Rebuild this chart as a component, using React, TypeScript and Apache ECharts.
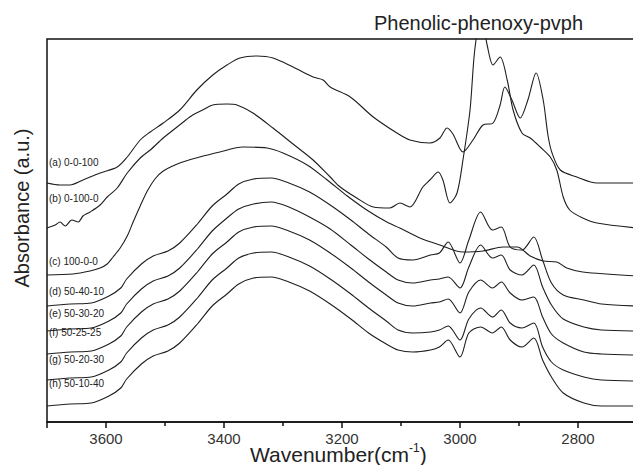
import React, { useEffect, useRef } from "react";
import * as echarts from "echarts";

// Wavenumber / absorbance readings (arbitrary absorbance units, curves offset as in the figure)
const wnA = [3700,3678,3661,3639,3610,3581,3564,3542,3525,3503,3475,3446,3419,3395,3373,3344,3317,3283,3249,3232,3220,3186,3147,3107,3085,3051,3034,3022,3012,2995,2978,2961,2944,2932,2924,2912,2898,2885,2871,2859,2851,2844,2830,2802,2768,2700];
const absA = [2.39,2.37,2.37,2.42,2.49,2.55,2.65,2.82,2.90,2.99,3.12,3.32,3.47,3.57,3.64,3.66,3.64,3.55,3.45,3.42,3.35,3.25,3.05,2.89,2.82,2.79,2.84,2.94,2.88,2.70,2.82,2.97,2.99,3.17,3.35,3.22,3.04,3.22,3.49,3.22,2.87,2.69,2.52,2.45,2.39,2.39];

const wnB = [3700,3686,3678,3669,3658,3647,3639,3627,3610,3598,3581,3564,3542,3525,3503,3486,3469,3453,3436,3419,3395,3378,3351,3317,3283,3249,3220,3203,3175,3147,3119,3102,3085,3063,3051,3037,3029,3017,3005,2995,2983,2975,2964,2954,2944,2932,2920,2910,2895,2881,2864,2847,2836,2825,2814,2792,2768,2700];
const absB = [1.94,1.97,2.00,1.96,2.02,2.00,2.06,2.10,2.17,2.25,2.34,2.49,2.64,2.72,2.84,2.92,3.00,3.07,3.12,3.17,3.18,3.17,3.09,2.94,2.78,2.62,2.45,2.35,2.24,2.15,2.14,2.19,2.15,2.35,2.42,2.50,2.42,2.19,2.29,2.62,3.12,3.72,4.07,3.77,3.57,3.65,3.42,3.12,2.89,2.84,2.75,2.65,2.52,2.25,2.12,2.04,1.99,1.94];

const wnC = [3700,3656,3627,3610,3598,3588,3576,3564,3554,3542,3530,3517,3503,3475,3441,3407,3368,3327,3300,3259,3225,3191,3158,3124,3102,3068,3034,2995,2961,2927,2903,2881,2859,2836,2819,2792,2700];
const absC = [1.47,1.48,1.51,1.54,1.58,1.65,1.74,1.86,2.00,2.16,2.31,2.43,2.51,2.59,2.65,2.70,2.75,2.74,2.69,2.57,2.42,2.26,2.12,2.00,1.94,1.84,1.77,1.70,1.71,1.75,1.75,1.66,1.61,1.60,1.54,1.50,1.46];

const wnBlend = [3700,3660,3625,3595,3575,3565,3540,3520,3495,3475,3445,3420,3395,3375,3350,3320,3290,3255,3220,3185,3155,3125,3105,3080,3050,3035,3020,3000,2985,2965,2945,2930,2915,2895,2875,2860,2845,2825,2790,2760,2700];
const absD = [1.16,1.18,1.19,1.26,1.34,1.43,1.58,1.66,1.71,1.79,1.98,2.16,2.28,2.38,2.43,2.44,2.39,2.30,2.17,2.02,1.88,1.75,1.64,1.62,1.67,1.69,1.80,1.59,1.82,2.10,1.92,1.95,1.75,1.72,1.85,1.62,1.39,1.27,1.22,1.18,1.16];
const absE = [0.91,0.93,0.94,1.01,1.09,1.18,1.33,1.41,1.46,1.54,1.73,1.91,2.04,2.13,2.18,2.20,2.15,2.05,1.93,1.77,1.63,1.50,1.42,1.39,1.42,1.43,1.45,1.34,1.55,1.77,1.64,1.67,1.52,1.47,1.57,1.35,1.17,1.03,0.95,0.92,0.91];
const absF = [0.68,0.70,0.71,0.78,0.86,0.95,1.10,1.18,1.23,1.31,1.50,1.68,1.80,1.90,1.95,1.96,1.91,1.82,1.69,1.54,1.40,1.27,1.19,1.16,1.19,1.20,1.23,1.09,1.30,1.42,1.34,1.40,1.29,1.22,1.25,1.05,0.88,0.79,0.70,0.68,0.67];
const absG = [0.42,0.44,0.45,0.52,0.60,0.69,0.84,0.92,0.97,1.05,1.24,1.42,1.54,1.64,1.69,1.70,1.65,1.56,1.43,1.28,1.14,1.01,0.92,0.89,0.90,0.92,0.96,0.82,1.03,1.14,1.05,1.12,0.99,0.94,0.99,0.75,0.60,0.52,0.45,0.42,0.41];
const absH = [0.16,0.18,0.19,0.26,0.34,0.43,0.58,0.66,0.71,0.79,0.98,1.16,1.28,1.38,1.44,1.45,1.40,1.31,1.18,1.03,0.89,0.78,0.72,0.70,0.72,0.75,0.82,0.65,0.89,0.95,0.89,0.95,0.82,0.75,0.84,0.62,0.45,0.29,0.19,0.16,0.16];

const sampleLabels = ["(a) 0-0-100","(b) 0-100-0","(c) 100-0-0","(d) 50-40-10","(e) 50-30-20","(f) 50-25-25","(g) 50-20-30","(h) 50-10-40"];
const labelTops = [163,199,262,292,314,333,360,384];

const FONT = "'Liberation Sans', Arial, sans-serif";

function pairs(xs: number[], ys: number[]) {
  return xs.map((x, i) => [x, ys[i]]);
}

export default function App() {
  const ref = useRef<HTMLDivElement>(null);
  useEffect(() => {
    document.body.style.margin = "0";
    if (!ref.current) return;
    const chart = echarts.init(ref.current, undefined, { renderer: "svg" });
    const curves = [
      pairs(wnA, absA), pairs(wnB, absB), pairs(wnC, absC),
      pairs(wnBlend, absD), pairs(wnBlend, absE), pairs(wnBlend, absF),
      pairs(wnBlend, absG), pairs(wnBlend, absH),
    ];
    const option: any = {
      animation: false,
      backgroundColor: "#ffffff",
      title: {
        text: "Phenolic-phenoxy-pvph",
        left: 369,
        top: 8,
        textStyle: { fontSize: 20, fontWeight: "normal", color: "#222", fontFamily: FONT },
      },
      grid: {
        left: 47, top: 39, height: 383, width: 649,
        containLabel: false,
        outerBoundsMode: "none",
        show: true, borderColor: "#111", borderWidth: 1.5, backgroundColor: "transparent",
      },
      xAxis: {
        type: "value",
        inverse: true,
        min: 2600,
        max: 3700,
        interval: 200,
        axisLine: { show: true, lineStyle: { color: "#111", width: 1.5 } },
        axisTick: { show: true, length: 6, lineStyle: { color: "#111", width: 1.5 } },
        minorTick: { show: true, splitNumber: 2, length: 4, lineStyle: { color: "#111", width: 1.5 } },
        splitLine: { show: false },
        axisLabel: { fontSize: 15, color: "#333", margin: 9, fontFamily: FONT,
          formatter: (v: number) => (v >= 2800 && v <= 3600 ? String(v) : "") },
      },
      yAxis: {
        type: "value", min: 0, max: 3.83, show: false,
      },
      graphic: [
        {
          type: "text", left: 250, top: 442,
          style: {
            text: "{m|Wavenumber(cm}{s|-1}{m|)}",
            fill: "#222",
            rich: {
              m: { fontSize: 21, fontFamily: FONT, lineHeight: 24, fill: "#222" },
              s: { fontSize: 12, fontFamily: FONT, lineHeight: 12, verticalAlign: "top", fill: "#222" },
            },
          },
        },
        {
          type: "text", x: 22, y: 208, rotation: Math.PI / 2,
          style: { text: "Absorbance (a.u.)", fontSize: 20, fontFamily: FONT, fill: "#222", align: "center", verticalAlign: "middle" },
        },
        ...sampleLabels.map((t, i) => ({
          type: "text", left: 49, top: labelTops[i] - 6,
          style: { text: t, fontSize: 10, fontFamily: FONT, fill: "#222" },
        })),
      ],
      series: curves.map((d) => ({
        type: "line",
        data: d,
        showSymbol: false,
        symbol: "none",
        smooth: 0.3,
        clip: true,
        lineStyle: { color: "#1e1e1e", width: 1.1 },
      })),
    };
    chart.setOption(option);
    return () => chart.dispose();
  }, []);
  return <div ref={ref} style={{ width: 633, height: 465 }} />;
}
